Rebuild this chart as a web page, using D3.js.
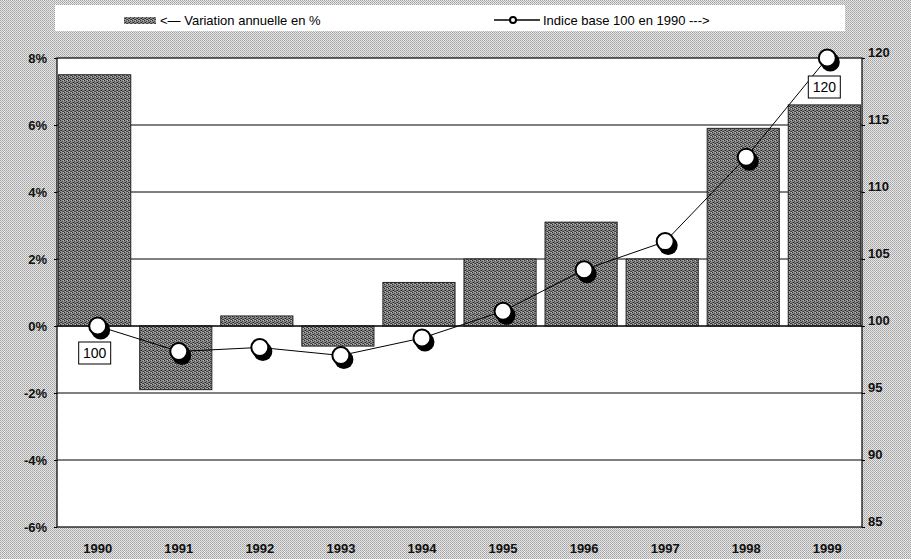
<!DOCTYPE html>
<html><head><meta charset="utf-8">
<script src="https://cdn.jsdelivr.net/npm/d3@7"></script>
<style>body{margin:0;background:#fff}svg{display:block}</style>
</head><body>
<svg id="c" width="911" height="559"></svg>
<script>
const years = ["1990","1991","1992","1993","1994","1995","1996","1997","1998","1999"];
const variation = [7.5, -1.9, 0.3, -0.6, 1.3, 2.0, 3.1, 2.0, 5.9, 6.6];
const indice = [100, 98.1, 98.4, 97.8, 99.1, 101.1, 104.2, 106.3, 112.6, 120.0];
const leftTicks = [8, 6, 4, 2, 0, -2, -4, -6];
const rightTicks = [120, 115, 110, 105, 100, 95, 90, 85];
const labelledPoints = ["1990", "1999"];
const legendBar = "<— Variation annuelle en %";
const legendLine = "Indice base 100 en 1990 --->";

const svg = d3.select("#c");
const W = 911, H = 559;
const m = {l: 57, r: 862, t: 58, b: 527};
const FONT = "Liberation Sans, Arial, sans-serif";

const defs = svg.append("defs");
const bg = defs.append("pattern").attr("id","bg").attr("width",2).attr("height",2).attr("patternUnits","userSpaceOnUse");
bg.append("rect").attr("width",2).attr("height",2).attr("fill","#e6e6e6");
bg.append("rect").attr("x",0).attr("y",0).attr("width",1).attr("height",1).attr("fill","#a4a4a4");
bg.append("rect").attr("x",1).attr("y",1).attr("width",1).attr("height",1).attr("fill","#b4b4b4");

const bp = defs.append("pattern").attr("id","barpat").attr("width",4).attr("height",4).attr("patternUnits","userSpaceOnUse");
bp.append("rect").attr("width",4).attr("height",4).attr("fill","#8a8a8a");
[[0,0,"#2a2a2a"],[2,1,"#444"],[1,2,"#222"],[3,3,"#3a3a3a"],[3,0,"#b8b8b8"],[1,3,"#aaa"],[0,2,"#555"],[2,3,"#4c4c4c"]].forEach(p=>{
  bp.append("rect").attr("x",p[0]).attr("y",p[1]).attr("width",1).attr("height",1).attr("fill",p[2]);
});

svg.append("rect").attr("width",W).attr("height",H).attr("fill","url(#bg)");

// legend box
svg.append("rect").attr("x",55).attr("y",5).attr("width",790).attr("height",26).attr("fill","#fff");

const x = d3.scaleBand().domain(years).range([m.l, m.r]).paddingInner(0.11).paddingOuter(0.02);
const y = d3.scaleLinear().domain([-6, 8]).range([m.b, m.t]);
const y2 = d3.scaleLinear().domain([85, 120]).range([m.b, m.t]);

// plot area
svg.append("rect").attr("x",m.l).attr("y",m.t).attr("width",m.r-m.l).attr("height",m.b-m.t)
  .attr("fill","#fff").attr("stroke","#000").attr("stroke-width",1.2);

// gridlines
svg.append("g").selectAll("line").data(leftTicks.filter(d=>d>-6 && d<8)).join("line")
  .attr("x1",m.l).attr("x2",m.r).attr("y1",d=>y(d)).attr("y2",d=>y(d))
  .attr("stroke","#000").attr("stroke-width",1);

// bars
svg.append("g").selectAll("rect").data(years).join("rect")
  .attr("x",d=>x(d)).attr("width",x.bandwidth())
  .attr("y",(d,i)=>y(Math.max(0,variation[i])))
  .attr("height",(d,i)=>Math.abs(y(variation[i])-y(0)))
  .attr("fill","url(#barpat)").attr("stroke","#222").attr("stroke-width",1);

// zero line
svg.append("line").attr("x1",m.l).attr("x2",m.r).attr("y1",y(0)).attr("y2",y(0)).attr("stroke","#000").attr("stroke-width",1);

// left axis
const la = svg.append("g").attr("transform",`translate(${m.l},0)`)
  .call(d3.axisLeft(y).tickValues(leftTicks).tickSize(3).tickFormat(d=>d+"%"));
la.select(".domain").remove();
la.selectAll("text").attr("x",-10).attr("font-family",FONT)
  .attr("font-size",13).attr("font-weight","bold").attr("fill","#111");

// right axis
const ra = svg.append("g").attr("transform",`translate(${m.r},0)`)
  .call(d3.axisRight(y2).tickValues(rightTicks).tickSize(3).tickFormat(d3.format("d")));
ra.select(".domain").remove();
ra.selectAll("text").attr("x",6).attr("dy","-0.15em").attr("font-family",FONT)
  .attr("font-size",13).attr("font-weight","bold").attr("fill","#111");

// bottom axis labels
const ba = svg.append("g").attr("transform",`translate(0,${m.b})`)
  .call(d3.axisBottom(x).tickSize(0));
ba.select(".domain").remove();
ba.selectAll("text").attr("y",17).attr("dx","3px").attr("font-family",FONT)
  .attr("font-size",13).attr("font-weight","bold").attr("fill","#111");

// line
const px = d => x(d) + x.bandwidth()/2 + 3;
const line = d3.line().x((d,i)=>px(years[i])).y(d=>y2(d));
svg.append("path").datum(indice).attr("d",line).attr("fill","none").attr("stroke","#000").attr("stroke-width",1);

// markers
const mk = svg.append("g").selectAll("g").data(indice).join("g")
  .attr("transform",(d,i)=>`translate(${px(years[i])},${y2(d)})`);
mk.append("circle").attr("cx",3).attr("cy",4).attr("r",9.5).attr("fill","#000");
mk.append("circle").attr("r",8.5).attr("fill","#fff").attr("stroke","#000").attr("stroke-width",2);

// data labels
const lab = svg.append("g").selectAll("g").data(years.filter(d=>labelledPoints.includes(d))).join("g")
  .attr("transform",d=>{
    const i = years.indexOf(d);
    return d==="1990" ? `translate(${px(d)-3},${y2(indice[i])+27})` : `translate(${px(d)-3},${y2(indice[i])+29})`;
  });
lab.append("rect").attr("x",-16).attr("y",-11).attr("width",32).attr("height",22).attr("fill","#fff").attr("stroke","#000").attr("stroke-width",1);
lab.append("text").text(d=>d3.format("d")(indice[years.indexOf(d)])).attr("text-anchor","middle").attr("dy","0.36em")
  .attr("font-family",FONT).attr("font-size",14).attr("fill","#000");

// legend
svg.append("rect").attr("x",124).attr("y",17).attr("width",32).attr("height",7).attr("fill","url(#barpat)");
svg.append("text").attr("x",160).attr("y",25).text(legendBar)
  .attr("font-family",FONT).attr("font-size",13).attr("fill","#000");
svg.append("line").attr("x1",494).attr("x2",540).attr("y1",20).attr("y2",20).attr("stroke","#000").attr("stroke-width",1.3);
svg.append("circle").attr("cx",513).attr("cy",20).attr("r",3).attr("fill","#fff").attr("stroke","#000").attr("stroke-width",2);
svg.append("text").attr("x",543).attr("y",25).text(legendLine)
  .attr("font-family",FONT).attr("font-size",13).attr("fill","#000");
</script>
</body></html>
